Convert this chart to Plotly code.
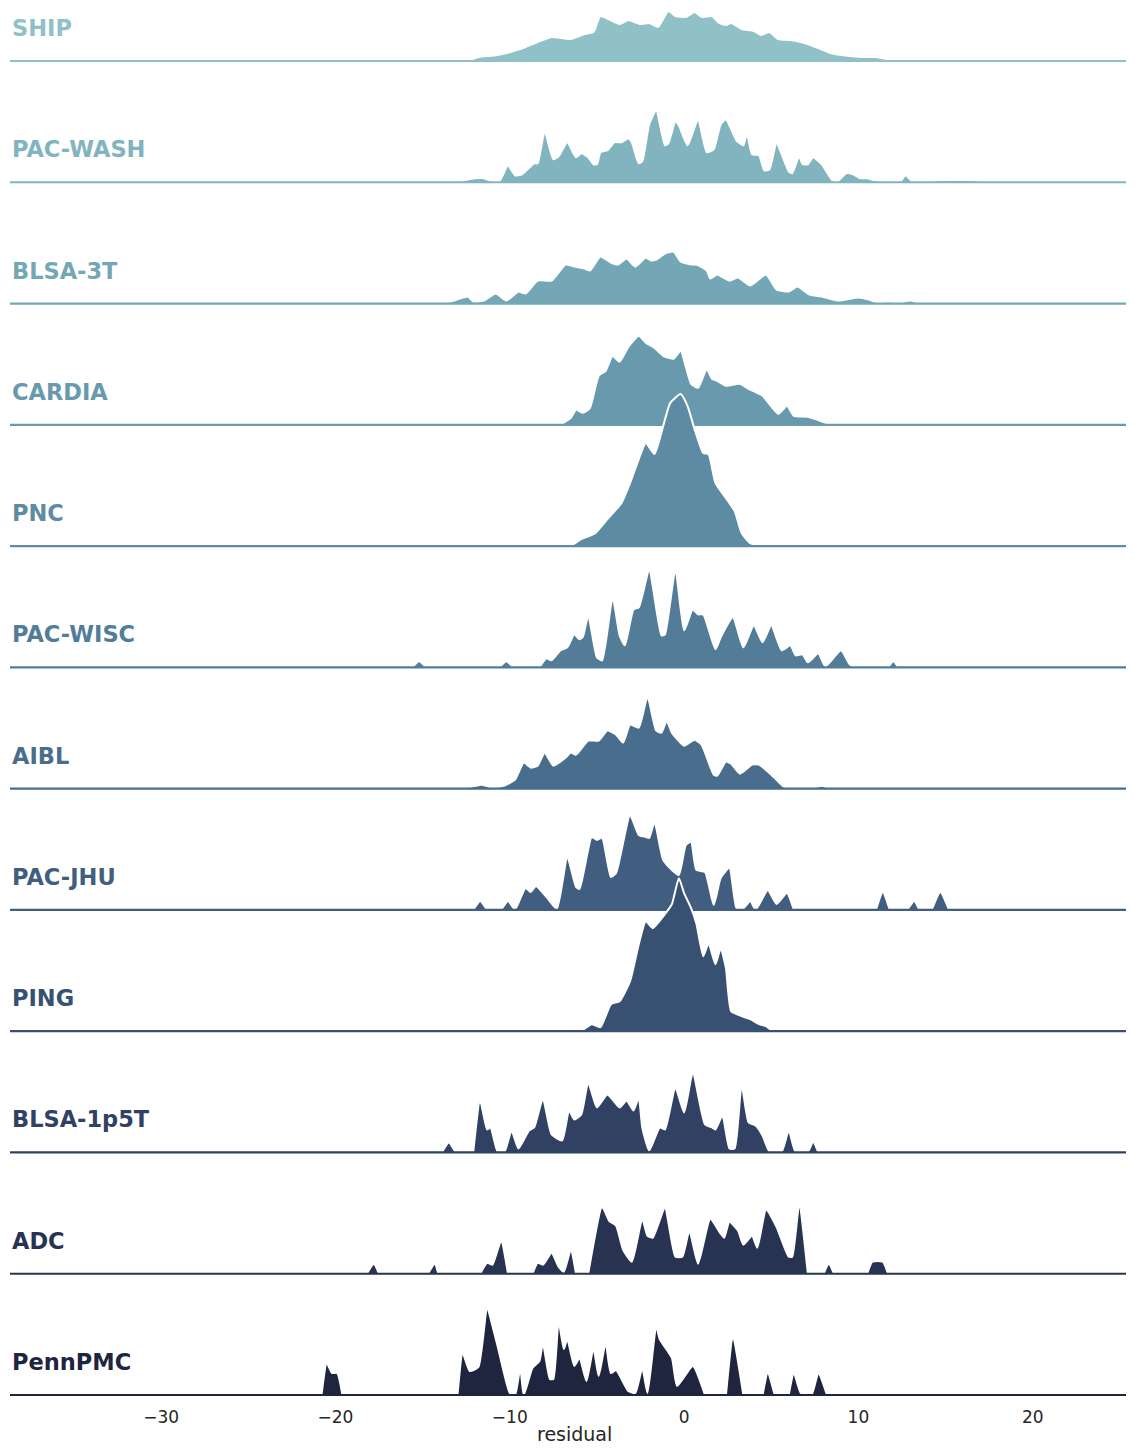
import numpy as np
import plotly.graph_objects as go

# ---------------- data (residual, scaled density) ----------------
names = ["SHIP", "PAC-WASH", "BLSA-3T", "CARDIA", "PNC", "PAC-WISC", "AIBL",
         "PAC-JHU", "PING", "BLSA-1p5T", "ADC", "PennPMC"]

ship = [(-14.0, 0), (-12.4, 0.5), (-11.8, 4), (-10.7, 6), (-9.4, 12), (-8.4, 19), (-7.6, 24),
        (-6.5, 22), (-5.7, 27), (-5.2, 29), (-4.8, 45), (-3.7, 37), (-3.2, 41), (-2.5, 37),
        (-2.0, 38), (-1.5, 34), (-0.9, 50), (-0.5, 45), (0.1, 44), (0.6, 49), (1.0, 44),
        (1.6, 45), (2.0, 38), (2.4, 36), (2.7, 38), (3.3, 32), (4.0, 30), (4.4, 26), (4.9, 29),
        (5.4, 22), (6.1, 21), (6.9, 18), (7.7, 13), (8.4, 8), (9.0, 6), (10.2, 4), (11.0, 4),
        (11.9, 1), (13.0, 0)]

pac_wash = [(-14.5, 0), (-13.0, 1), (-12.0, 4), (-11.5, 4), (-11.0, 1), (-10.6, 1), (-10.1, 17),
            (-9.7, 7), (-9.3, 8), (-8.6, 19), (-8.4, 19), (-8.0, 51), (-7.5, 23), (-7.2, 26),
            (-6.7, 40), (-6.2, 25), (-5.9, 29), (-5.5, 25), (-5.2, 18), (-5.0, 18), (-4.8, 30),
            (-4.4, 32), (-4.0, 40), (-3.6, 40), (-3.2, 44), (-3.0, 40), (-2.6, 19), (-2.4, 21),
            (-2.0, 58), (-1.6, 72), (-1.1, 37), (-0.9, 39), (-0.5, 61), (-0.3, 57), (0.2, 37),
            (0.8, 63), (1.3, 30), (1.7, 33), (2.1, 58), (2.4, 63), (3.0, 42), (3.4, 37), (3.6, 49),
            (3.9, 28), (4.3, 27), (4.6, 12), (4.9, 13), (5.3, 39), (6.0, 11), (6.2, 9), (6.6, 26),
            (6.8, 18), (7.1, 18), (7.4, 25), (7.9, 18), (8.5, 2), (8.8, 1), (9.3, 9), (9.7, 8),
            (10.1, 4), (10.5, 4), (10.9, 2), (11.4, 1), (12.4, 1), (12.7, 7), (13.1, 1), (14.7, 2),
            (16.6, 2), (17.8, 0)]

blsa_3t = [(-15.0, 0), (-13.4, 2), (-12.4, 7), (-12.1, 2), (-11.5, 3), (-10.8, 10), (-10.2, 3),
           (-9.5, 12), (-9.1, 10), (-8.4, 23), (-7.6, 23), (-6.8, 39), (-6.3, 37), (-5.7, 35),
           (-5.4, 33), (-4.8, 47), (-4.2, 41), (-3.8, 39), (-3.3, 45), (-2.8, 37), (-2.2, 46),
           (-1.9, 43), (-1.6, 44), (-1.1, 50), (-0.6, 52), (-0.2, 42), (0.4, 39), (0.7, 39),
           (1.3, 33), (1.5, 25), (1.9, 29), (2.6, 23), (3.1, 26), (3.8, 18), (4.7, 29), (5.3, 14),
           (6.0, 12), (6.5, 17), (7.2, 9), (7.9, 7), (8.8, 3), (10.0, 6), (10.6, 4), (11.1, 1),
           (11.7, 2), (12.3, 1), (13.0, 3), (13.4, 1), (14.2, 0.5), (15.0, 0)]

cardia = [(-7.5, 0), (-7.1, 0.5), (-6.5, 7), (-6.2, 15), (-5.8, 12), (-5.4, 17), (-4.9, 49),
          (-4.5, 54), (-4.1, 69), (-3.7, 63), (-3.2, 78), (-2.6, 89), (-2.2, 82), (-1.7, 77),
          (-1.2, 69), (-0.6, 66), (-0.2, 74), (0.4, 41), (0.8, 37), (1.3, 56), (1.6, 46),
          (1.9, 44), (2.4, 39), (3.2, 41), (3.7, 36), (4.5, 29), (5.4, 11), (5.9, 19), (6.3, 9),
          (7.1, 8), (8.3, 1), (8.6, 0)]

pnc = [(-7.0, 0), (-6.5, 0.5), (-5.9, 7), (-5.1, 13), (-4.4, 27), (-3.6, 43), (-3.1, 63),
       (-2.6, 87), (-2.2, 103), (-1.7, 92), (-1.2, 120), (-0.8, 143), (-0.2, 152), (0.2, 140),
       (0.6, 117), (1.1, 93), (1.4, 92), (1.8, 63), (2.4, 48), (2.9, 35), (3.3, 13), (3.8, 3),
       (4.6, 0.5), (5.2, 0)]

pac_wisc = [(-15.6, 0), (-15.2, 6), (-14.8, 0), (-10.6, 0), (-10.2, 6), (-9.8, 0), (-8.3, 0),
            (-7.9, 9), (-7.6, 7), (-7.1, 17), (-6.7, 20), (-6.3, 33), (-6.0, 28), (-5.8, 31),
            (-5.5, 52), (-5.0, 10), (-4.7, 7), (-4.1, 70), (-3.7, 32), (-3.4, 22), (-2.9, 58),
            (-2.6, 60), (-2.0, 97), (-1.3, 32), (-1.1, 33), (-0.5, 98), (0.0, 37), (0.5, 58),
            (0.8, 53), (1.1, 53), (1.8, 18), (2.1, 30), (2.8, 50), (3.4, 20), (4.0, 42), (4.5, 25),
            (5.0, 42), (5.6, 17), (6.1, 22), (6.4, 12), (6.8, 13), (7.1, 5), (7.7, 14), (8.1, 1),
            (9.0, 17), (9.5, 3), (9.8, 0), (11.7, 0), (12.0, 6), (12.3, 0)]

aibl = [(-14.0, 0), (-13.4, 1), (-12.2, 2), (-11.6, 4), (-11.0, 1), (-10.3, 3), (-9.7, 9),
        (-9.2, 26), (-8.8, 21), (-8.4, 23), (-8.0, 36), (-7.5, 23), (-6.8, 31), (-6.5, 36),
        (-6.2, 34), (-5.5, 48), (-4.9, 48), (-4.4, 58), (-3.9, 54), (-3.5, 46), (-3.1, 64),
        (-2.6, 61), (-2.1, 92), (-1.6, 58), (-1.3, 56), (-1.0, 68), (-0.7, 56), (0.0, 43),
        (0.6, 49), (1.0, 44), (1.7, 14), (1.9, 13), (2.4, 27), (2.7, 25), (3.2, 15), (3.9, 24),
        (4.3, 24), (5.0, 14), (5.8, 1), (7.5, 1), (7.9, 3), (8.3, 0.5), (8.6, 0)]

pac_jhu = [(-12.1, 0), (-11.7, 9), (-11.3, 0), (-10.5, 0), (-10.1, 9), (-9.7, 0.5), (-9.1, 22),
           (-8.8, 18), (-8.5, 24), (-7.9, 13), (-7.3, 1), (-6.7, 53), (-6.2, 23), (-6.0, 21),
           (-5.3, 73), (-5.0, 70), (-4.7, 72), (-4.2, 33), (-3.9, 37), (-3.1, 95), (-2.6, 75),
           (-2.2, 73), (-2.0, 72), (-1.7, 88), (-1.2, 50), (-0.7, 40), (-0.3, 35), (0.1, 65),
           (0.4, 68), (0.7, 40), (1.2, 38), (1.7, 5), (2.1, 32), (2.6, 42), (3.0, 2), (3.3, 0),
           (3.8, 9), (4.1, 0), (4.8, 20), (5.3, 6), (5.9, 17), (6.3, 0), (11.0, 0), (11.4, 18),
           (11.8, 0), (12.8, 0), (13.2, 9), (13.5, 0), (14.2, 0), (14.7, 18), (15.2, 0)]

ping = [(-6.5, 0), (-5.9, 0.5), (-5.3, 7), (-4.8, 4), (-4.2, 27), (-3.7, 30), (-3.1, 50),
        (-2.6, 87), (-2.2, 110), (-1.8, 103), (-1.1, 117), (-0.7, 127), (-0.3, 153), (0.0, 138),
        (0.4, 123), (0.7, 108), (1.1, 75), (1.4, 88), (1.8, 67), (2.1, 83), (2.4, 63), (2.7, 20),
        (3.3, 15), (3.8, 12), (4.3, 7), (4.7, 5), (5.0, 1), (5.4, 0)]

blsa_1p5t = [(-13.9, 0), (-13.5, 10), (-13.1, 0), (-12.1, 0), (-11.7, 52), (-11.3, 23),
             (-11.1, 25), (-10.7, 1), (-10.3, 1), (-9.9, 22), (-9.5, 4), (-8.9, 22), (-8.6, 25),
             (-8.1, 54), (-7.6, 18), (-7.0, 12), (-6.6, 42), (-6.3, 33), (-5.9, 38), (-5.5, 70),
             (-5.0, 45), (-4.4, 58), (-3.7, 45), (-3.3, 52), (-2.9, 42), (-2.6, 55), (-2.4, 25),
             (-2.0, 2), (-1.4, 25), (-1.1, 23), (-0.5, 65), (0.0, 40), (0.5, 80), (1.2, 28),
             (1.6, 25), (1.8, 23), (2.2, 37), (2.6, 4), (2.9, 4), (3.3, 68), (3.7, 30), (4.1, 27),
             (4.5, 17), (4.9, 1), (5.6, 1), (6.0, 22), (6.4, 0.5), (7.1, 0.5), (7.4, 11), (7.7, 0)]

adc = [(-18.2, 0), (-17.8, 10), (-17.5, 0), (-14.7, 0), (-14.3, 10), (-14.1, 0), (-11.7, 0),
       (-11.3, 11), (-11.0, 9), (-10.5, 33), (-10.1, 0), (-8.7, 0), (-8.4, 11), (-8.1, 9),
       (-7.6, 21), (-7.2, 7), (-6.9, 2), (-6.5, 24), (-6.2, 0), (-5.5, 0), (-4.7, 67), (-4.3, 53),
       (-3.9, 48), (-3.5, 24), (-3.0, 12), (-2.4, 55), (-2.1, 38), (-1.8, 36), (-1.1, 66),
       (-0.5, 17), (-0.1, 17), (0.3, 43), (0.8, 10), (1.5, 55), (2.1, 40), (2.3, 36), (2.6, 52),
       (3.1, 43), (3.4, 29), (3.9, 38), (4.2, 26), (4.7, 64), (5.3, 47), (6.0, 17), (6.2, 17),
       (6.6, 69), (7.1, 0), (8.0, 0), (8.3, 10), (8.6, 0), (10.5, 0), (10.8, 12), (11.4, 12),
       (11.7, 0)]

pennpmc = [(-20.8, 0), (-20.5, 32), (-20.2, 22), (-19.9, 22), (-19.6, 0), (-13.0, 0), (-12.7, 42),
           (-12.3, 24), (-11.8, 28), (-11.3, 86), (-10.7, 49), (-10.0, 2), (-9.7, 0), (-9.4, 27),
           (-9.2, 0), (-8.7, 27), (-8.3, 34), (-8.1, 52), (-7.7, 16), (-7.5, 16), (-7.2, 74),
           (-6.9, 46), (-6.7, 56), (-6.3, 29), (-6.0, 37), (-5.6, 14), (-5.2, 47), (-4.9, 19),
           (-4.5, 52), (-4.2, 22), (-3.9, 25), (-3.2, 4), (-2.8, 2), (-2.4, 27), (-2.1, 2),
           (-1.6, 69), (-1.4, 56), (-0.7, 37), (-0.4, 9), (0.5, 29), (1.2, 0), (2.4, 0), (2.8, 57),
           (3.4, 0), (4.5, 0), (4.8, 22), (5.2, 0), (6.0, 0), (6.3, 22), (6.7, 2), (7.3, 0),
           (7.7, 22), (8.2, 0)]

curves = [ship, pac_wash, blsa_3t, cardia, pnc, pac_wisc, aibl, pac_jhu, ping, blsa_1p5t, adc, pennpmc]
x_ticks = [-30, -20, -10, 0, 10, 20]
x_range = [-38.67, 25.35]
x_title = "residual"


# ---------------- palette (seaborn cubehelix, rot=-.25, light=.7) ----------------
def cubehelix(n, start=0.0, rot=-0.25, gamma=1.0, hue=0.8, light=0.7, dark=0.15):
    out = []
    for v in np.linspace(light, dark, n):
        vg = v ** gamma
        a = hue * vg * (1 - vg) / 2
        phi = 2 * np.pi * (start / 3 + rot * v)
        r = vg + a * (-0.14861 * np.cos(phi) + 1.78277 * np.sin(phi))
        g = vg + a * (-0.29227 * np.cos(phi) - 0.90649 * np.sin(phi))
        b = vg + a * (1.97294 * np.cos(phi))
        out.append("#%02x%02x%02x" % tuple(int(round(float(np.clip(c, 0, 1)) * 255)) for c in (r, g, b)))
    return out


def split_segments(pts):
    """Split a curve wherever two consecutive points both lie on zero (flat gap)."""
    segs, cur = [], [pts[0]]
    for prev, p in zip(pts[:-1], pts[1:]):
        if prev[1] == 0 and p[1] == 0:
            if len(cur) > 1:
                segs.append(cur)
            cur = [p]
        else:
            cur.append(p)
    if len(cur) > 1:
        segs.append(cur)
    return segs


colors = cubehelix(len(names))

# ---------------- layout geometry (page body has an 8px margin) ----------------
W, H = 1118, 1440
ML, MR, MT, MB = 2, 0, 0, 49
plot_h = H - MT - MB
first_base = 53.0
below_px = 4.0
step = (plot_h - below_px - first_base) / (len(names) - 1)
axis_px = 160.0

fig = go.Figure()
layout_axes = {}
annotations = []
n = len(names)
for i, (name, pts, col) in enumerate(zip(names, curves, colors)):
    yid = "y" if i == 0 else f"y{i + 1}"
    lname = "yaxis" if i == 0 else f"yaxis{i + 1}"
    base = plot_h - (first_base + i * step)  # px from bottom of plot area
    d0 = max(0.0, (base - below_px) / plot_h)
    d1 = min(1.0, (base + axis_px) / plot_h)
    r0 = -(base - d0 * plot_h)
    r1 = d1 * plot_h - base
    layout_axes[lname] = dict(domain=[d0, d1], range=[r0, r1], visible=False,
                              anchor="x", fixedrange=True)
    for seg in split_segments(pts):
        fig.add_trace(go.Scatter(x=[p[0] for p in seg], y=[p[1] for p in seg],
                                 xaxis="x", yaxis=yid, mode="lines",
                                 fill="tozeroy", fillcolor=col,
                                 line=dict(color="white", width=2, shape="spline", smoothing=0.5),
                                 hoverinfo="skip", showlegend=False))
    fig.add_trace(go.Scatter(x=x_range, y=[0, 0], xaxis="x", yaxis=yid, mode="lines",
                             line=dict(color=col, width=2.2),
                             hoverinfo="skip", showlegend=False))
    annotations.append(dict(text=name, xref="paper", x=0, xanchor="left",
                            yref=yid, y=33, yanchor="middle", showarrow=False,
                            font=dict(family="DejaVu Sans", size=22.5, color=col, weight="bold")))

annotations.append(dict(text=x_title, xref="paper", x=0.506, xanchor="center",
                        yref="paper", y=0, yanchor="bottom", yshift=-MB + 1, showarrow=False,
                        font=dict(family="DejaVu Sans", size=19, color="#262626")))

last_y = "y" if n == 1 else f"y{n}"
fig.update_layout(
    width=W, height=H,
    margin=dict(l=ML, r=MR, t=MT, b=MB),
    paper_bgcolor="white", plot_bgcolor="rgba(0,0,0,0)",
    font=dict(family="DejaVu Sans", color="#262626"),
    xaxis=dict(range=x_range, anchor=last_y, domain=[0, 1], tickvals=x_ticks,
               showgrid=False, zeroline=False, showline=False, ticks="",
               tickfont=dict(size=17, color="#262626"), ticklabelstandoff=6,
               fixedrange=True),
    annotations=annotations,
    showlegend=False,
    **layout_axes,
)

fig.write_html("out.html")
